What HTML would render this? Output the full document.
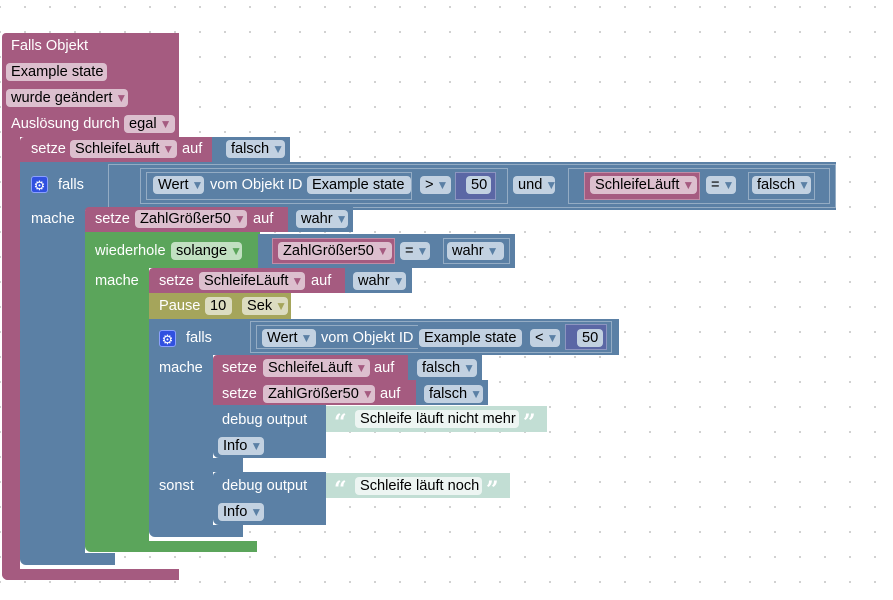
<!DOCTYPE html>
<html><head><meta charset="utf-8"><style>
body{margin:0;width:893px;height:600px;overflow:hidden;background:#fff;
background-image:radial-gradient(circle,#c8c8c8 0.8px,transparent 1.2px);background-size:25px 25px;background-position:-12.5px -5.5px;
font-family:"Liberation Sans",sans-serif;font-size:14.6px;position:relative}
.b{position:absolute}
.t{position:absolute;color:#fff;line-height:18px;white-space:nowrap}
.f{position:absolute;height:18px;line-height:18px;border-radius:4px;color:#000;padding-left:5px;box-sizing:border-box;white-space:nowrap}
.a{font-size:12px;margin-left:3px}
.pk{background:#a55b80}.bl{background:#5b80a5}.gr{background:#5ba55b}.ol{background:#a5a55b}.pu{background:#5b67a5}.tx{background:#c2ded4}
.fp{background:#dcbfce}.fb{background:#c2d1e1}.fg{background:#c2e0c2}.fo{background:#dcdcc0}.ft{background:#edf5f2}
.ap{color:#a55b80}.ab{color:#5b80a5}.ag{color:#5ba55b}.ao{color:#a5a55b}
.o{position:absolute;border:1px solid rgba(255,255,255,0.35);box-sizing:border-box}
.g{position:absolute;width:17px;height:17px;background:#3050e0;border-radius:3px;color:#fff;font-size:13px;line-height:17px;text-align:center;border:1px solid #8aa0ff;box-sizing:border-box}
.q{position:absolute;color:#fff;font-family:"DejaVu Serif",serif;font-weight:bold;font-size:22px;line-height:22px}
</style></head><body>
<!-- event block -->
<div class="b pk" style="left:2px;top:33px;width:177px;height:104px;border-radius:4px 0 0 0"></div>
<div class="b pk" style="left:2px;top:137px;width:18px;height:443px;border-radius:0 0 0 6px"></div>
<div class="b pk" style="left:2px;top:569px;width:177px;height:11px;border-radius:0 0 0 6px"></div>
<div class="t" style="left:11px;top:37px">Falls Objekt</div>
<div class="f fp" style="left:6px;top:63px;width:101px">Example state</div>
<div class="f fp" style="left:6px;top:89px;width:122px">wurde geändert<span class="a ap">▼</span></div>
<div class="t" style="left:11px;top:115px">Auslösung durch</div>
<div class="f fp" style="left:124px;top:115px;width:51px">egal<span class="a ap">▼</span></div>

<!-- setze SchleifeLäuft falsch -->
<div class="b pk" style="left:20px;top:137px;width:194px;height:25px;border-radius:4px 0 0 0"></div>
<div class="b bl" style="left:212px;top:137px;width:78px;height:25px"></div>
<div class="t" style="left:31px;top:140px">setze</div>
<div class="f fp" style="left:70px;top:140px;width:107px">SchleifeLäuft<span class="a ap">▼</span></div>
<div class="t" style="left:182px;top:140px">auf</div>
<div class="f fb" style="left:226px;top:140px;width:59px">falsch<span class="a ab">▼</span></div>

<!-- falls 1 -->
<div class="b bl" style="left:20px;top:162px;width:816px;height:48px"></div>
<div class="b bl" style="left:20px;top:210px;width:65px;height:345px"></div>
<div class="b bl" style="left:20px;top:553px;width:95px;height:12px;border-radius:0 0 0 6px"></div>
<div class="g" style="left:31px;top:176px">⚙</div>
<div class="t" style="left:58px;top:176px">falls</div>
<div class="o" style="left:108px;top:164px;width:728px;height:44px"></div>
<div class="o" style="left:140px;top:168px;width:368px;height:36px"></div>
<div class="o" style="left:146px;top:172px;width:266px;height:28px"></div>
<div class="f fb" style="left:153px;top:176px;width:51px">Wert<span class="a ab">▼</span></div>
<div class="t" style="left:210px;top:176px">vom Objekt ID</div>
<div class="f fb" style="left:307px;top:176px;width:104px">Example state</div>
<div class="f fb" style="left:420px;top:176px;width:31px">&gt;<span class="a ab">▼</span></div>
<div class="b pu" style="left:455px;top:172px;width:41px;height:28px;border:1px solid rgba(255,255,255,0.3);box-sizing:border-box"></div>
<div class="f fb" style="left:466px;top:176px;width:25px">50</div>
<div class="f fb" style="left:513px;top:176px;width:42px">und<span class="a ab">▼</span></div>
<div class="o" style="left:568px;top:168px;width:262px;height:36px"></div>
<div class="b pk" style="left:584px;top:172px;width:116px;height:28px;border:1px solid rgba(255,255,255,0.3);box-sizing:border-box"></div>
<div class="f fp" style="left:590px;top:176px;width:107px">SchleifeLäuft<span class="a ap">▼</span></div>
<div class="f fb" style="left:706px;top:176px;width:30px">=<span class="a ab">▼</span></div>
<div class="o" style="left:748px;top:172px;width:67px;height:28px"></div>
<div class="f fb" style="left:752px;top:176px;width:59px">falsch<span class="a ab">▼</span></div>
<div class="t" style="left:31px;top:210px">mache</div>

<!-- setze ZahlGrößer50 wahr -->
<div class="b pk" style="left:85px;top:207px;width:205px;height:25px;border-radius:4px 0 0 0"></div>
<div class="b bl" style="left:288px;top:207px;width:65px;height:25px"></div>
<div class="t" style="left:95px;top:210px">setze</div>
<div class="f fp" style="left:135px;top:210px;width:112px">ZahlGrößer50<span class="a ap">▼</span></div>
<div class="t" style="left:253px;top:210px">auf</div>
<div class="f fb" style="left:296px;top:210px;width:52px">wahr<span class="a ab">▼</span></div>

<!-- wiederhole -->
<div class="b gr" style="left:85px;top:232px;width:175px;height:36px"></div>
<div class="b gr" style="left:85px;top:268px;width:64px;height:275px"></div>
<div class="b gr" style="left:85px;top:541px;width:172px;height:11px;border-radius:0 0 0 6px"></div>
<div class="t" style="left:95px;top:242px">wiederhole</div>
<div class="f fg" style="left:171px;top:242px;width:71px">solange<span class="a ag">▼</span></div>
<div class="b bl" style="left:258px;top:234px;width:257px;height:34px"></div>
<div class="b pk" style="left:272px;top:238px;width:123px;height:26px;border:1px solid rgba(255,255,255,0.3);box-sizing:border-box"></div>
<div class="f fp" style="left:278px;top:242px;width:114px">ZahlGrößer50<span class="a ap">▼</span></div>
<div class="f fb" style="left:400px;top:242px;width:30px">=<span class="a ab">▼</span></div>
<div class="o" style="left:443px;top:238px;width:67px;height:26px"></div>
<div class="f fb" style="left:447px;top:242px;width:57px">wahr<span class="a ab">▼</span></div>
<div class="t" style="left:95px;top:272px">mache</div>

<!-- setze SchleifeLäuft wahr -->
<div class="b pk" style="left:149px;top:268px;width:198px;height:25px;border-radius:4px 0 0 0"></div>
<div class="b bl" style="left:345px;top:268px;width:67px;height:25px"></div>
<div class="t" style="left:159px;top:272px">setze</div>
<div class="f fp" style="left:199px;top:272px;width:106px">SchleifeLäuft<span class="a ap">▼</span></div>
<div class="t" style="left:311px;top:272px">auf</div>
<div class="f fb" style="left:353px;top:272px;width:53px">wahr<span class="a ab">▼</span></div>

<!-- Pause -->
<div class="b ol" style="left:149px;top:293px;width:142px;height:26px"></div>
<div class="t" style="left:159px;top:297px">Pause</div>
<div class="f fo" style="left:205px;top:297px;width:27px">10</div>
<div class="f fo" style="left:242px;top:297px;width:46px">Sek<span class="a ao">▼</span></div>

<!-- falls 2 -->
<div class="b bl" style="left:149px;top:319px;width:470px;height:36px"></div>
<div class="b bl" style="left:149px;top:355px;width:64px;height:172px"></div>
<div class="b bl" style="left:149px;top:458px;width:94px;height:14px"></div>
<div class="b bl" style="left:149px;top:525px;width:94px;height:12px;border-radius:0 0 0 6px"></div>
<div class="g" style="left:159px;top:330px">⚙</div>
<div class="t" style="left:186px;top:329px">falls</div>
<div class="o" style="left:250px;top:321px;width:362px;height:32px"></div>
<div class="o" style="left:256px;top:325px;width:162px;height:24px;border-right:none"></div>
<div class="f fb" style="left:262px;top:329px;width:54px">Wert<span class="a ab">▼</span></div>
<div class="t" style="left:321px;top:329px">vom Objekt ID</div>
<div class="f fb" style="left:419px;top:329px;width:103px">Example state</div>
<div class="f fb" style="left:530px;top:329px;width:30px">&lt;<span class="a ab">▼</span></div>
<div class="b pu" style="left:565px;top:324px;width:42px;height:26px;border:1px solid rgba(255,255,255,0.3);box-sizing:border-box"></div>
<div class="f fb" style="left:577px;top:329px;width:26px">50</div>
<div class="t" style="left:159px;top:359px">mache</div>

<div class="b pk" style="left:213px;top:355px;width:197px;height:25px;border-radius:4px 0 0 0"></div>
<div class="b bl" style="left:408px;top:355px;width:74px;height:25px"></div>
<div class="t" style="left:222px;top:359px">setze</div>
<div class="f fp" style="left:263px;top:359px;width:107px">SchleifeLäuft<span class="a ap">▼</span></div>
<div class="t" style="left:374px;top:359px">auf</div>
<div class="f fb" style="left:417px;top:359px;width:60px">falsch<span class="a ab">▼</span></div>

<div class="b pk" style="left:213px;top:380px;width:205px;height:25px"></div>
<div class="b bl" style="left:416px;top:380px;width:72px;height:25px"></div>
<div class="t" style="left:222px;top:385px">setze</div>
<div class="f fp" style="left:263px;top:385px;width:112px">ZahlGrößer50<span class="a ap">▼</span></div>
<div class="t" style="left:380px;top:385px">auf</div>
<div class="f fb" style="left:424px;top:385px;width:59px">falsch<span class="a ab">▼</span></div>

<div class="b bl" style="left:213px;top:405px;width:113px;height:53px;border-radius:0 0 0 6px"></div>
<div class="t" style="left:222px;top:411px">debug output</div>
<div class="b tx" style="left:326px;top:406px;width:221px;height:26px"></div>
<div class="q" style="left:334px;top:412px">“</div>
<div class="f ft" style="left:355px;top:410px;width:164px">Schleife läuft nicht mehr</div>
<div class="q" style="left:523px;top:412px">”</div>
<div class="f fb" style="left:218px;top:437px;width:46px">Info<span class="a ab">▼</span></div>

<div class="t" style="left:159px;top:477px">sonst</div>
<div class="b bl" style="left:213px;top:472px;width:113px;height:53px;border-radius:4px 0 0 6px"></div>
<div class="t" style="left:222px;top:477px">debug output</div>
<div class="b tx" style="left:326px;top:473px;width:184px;height:25px"></div>
<div class="q" style="left:334px;top:479px">“</div>
<div class="f ft" style="left:355px;top:477px;width:127px">Schleife läuft noch</div>
<div class="q" style="left:486px;top:479px">”</div>
<div class="f fb" style="left:218px;top:503px;width:46px">Info<span class="a ab">▼</span></div>
</body></html>
